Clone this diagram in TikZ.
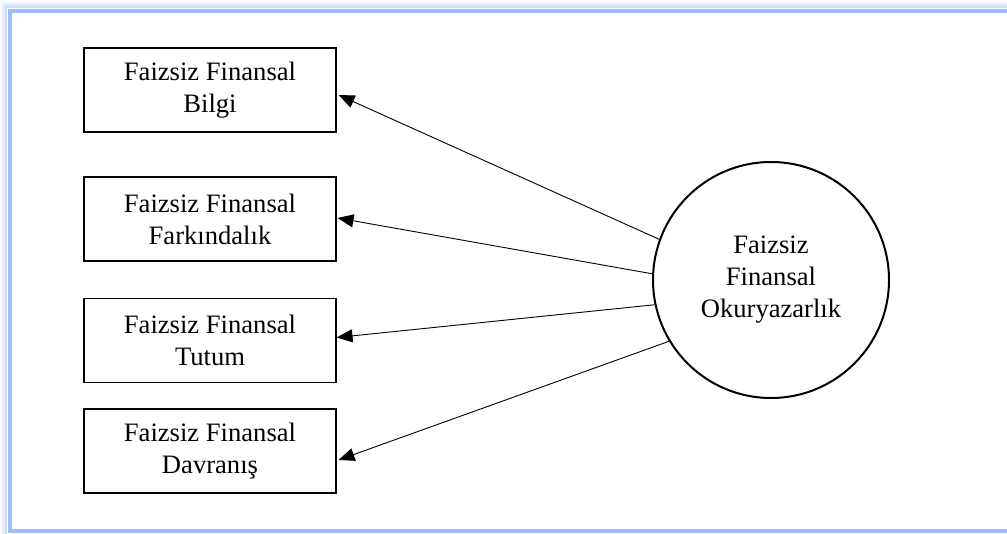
\documentclass[tikz,border=0pt]{standalone}
\usepackage{fontspec}
\setmainfont{Liberation Serif}
\usetikzlibrary{arrows.meta}
\definecolor{framebl}{RGB}{158,190,248}

\begin{document}
\begin{tikzpicture}[x=1pt, y=-1pt,
    every node/.style={font=\fontsize{26.6}{32}\selectfont, align=center},
    factorbox/.style={draw, line width=1.1pt, rectangle, minimum width=252pt, minimum height=84pt, inner sep=0pt},
    latent/.style={draw, line width=2pt, circle, minimum size=236pt, inner sep=0pt},
    path/.style={line width=0.9pt, -{Triangle[length=16pt,width=13pt]}}]

                \useasboundingbox (0,0) rectangle (1007,533);
                % blue frame with soft glow
                \foreach \o/\op in {8/0.15,6/0.3,4/0.5}
                    \draw [framebl, line width=2pt, opacity=\op] (10-\o,11-\o) rectangle (1020,540);
                \draw [framebl, line width=4pt] (10,11) rectangle (1020,531);

                \node [factorbox] (bilgi) at (210,90) {Faizsiz Finansal\\Bilgi};
                \node [factorbox] (farkindalik) at (210,219) {Faizsiz Finansal\\Farkındalık};
                \node [factorbox] (tutum) at (210,340.5) {Faizsiz Finansal\\Tutum};
                \node [factorbox] (davranis) at (210,451) {Faizsiz Finansal\\Davranış};
                \node [latent] (fol) at (771,280) {Faizsiz\\Finansal\\Okuryazarlık};

                \draw [path] (fol.160.5) -- ([xshift=2pt,yshift=-5pt]bilgi.east);
                \draw [path] (fol.177.6) -- ([xshift=1pt,yshift=1pt]farkindalik.east);
                \draw [path] (fol.192.2) -- ([xshift=0pt,yshift=3pt]tutum.east);
                \draw [path] (fol.211.5) -- ([xshift=2pt,yshift=-9pt]davranis.east);
            \end{tikzpicture}
\end{document}
